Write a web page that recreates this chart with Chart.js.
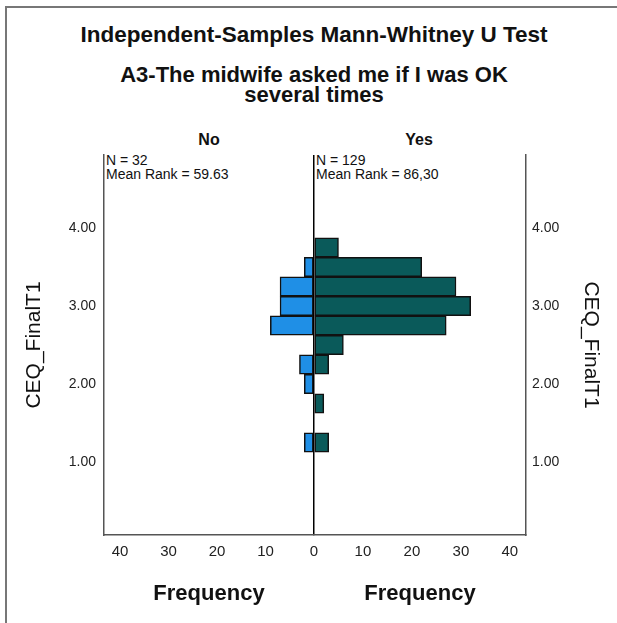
<!DOCTYPE html>
<html>
<head>
<meta charset="utf-8">
<script src="https://cdn.jsdelivr.net/npm/chart.js@4.4.1/dist/chart.umd.min.js"></script>
<style>
  body { margin: 0; background: #fff; width: 617px; height: 623px; overflow: hidden; position: relative; font-family: 'Liberation Sans', Arial, sans-serif; color: #111; }
  .abs { position: absolute; }
  .frame { left: 5px; top: 6px; width: 640px; height: 640px; border-left: 2px solid #777; border-top: 2px solid #777; }
  .title { left: 0; width: 628px; text-align: center; font-weight: bold; font-size: 22.5px; line-height: 22px; }
  .sub { left: 0; width: 628px; text-align: center; font-weight: bold; font-size: 22px; line-height: 20px; }
  .group { width: 210px; text-align: center; font-weight: bold; font-size: 16px; line-height: 16px; top: 132px; }
  .info { font-size: 14px; line-height: 14px; top: 153px; white-space: nowrap; }
</style>
</head>
<body>
<div class="abs frame"></div>
<div class="abs title" style="top:24px">Independent-Samples Mann-Whitney U Test</div>
<div class="abs sub" style="top:65px">A3-The midwife asked me if I was OK<br>several times</div>
<div class="abs group" id="groupNo" style="left:104px"></div>
<div class="abs group" id="groupYes" style="left:314px"></div>
<div class="abs info" id="infoNo" style="left:106px"></div>
<div class="abs info" id="infoYes" style="left:316px"></div>

<div class="abs" style="left:0;top:0;width:330px;height:623px"><canvas id="leftChart" width="330" height="623"></canvas></div>
<div class="abs" style="left:298px;top:0;width:319px;height:623px"><canvas id="rightChart" width="319" height="623"></canvas></div>

<script>
// histogram bins of CEQ_FinalT1 (bin centres) and counts per group
const binCentres = [3.75, 3.5, 3.25, 3.0, 2.75, 2.5, 2.25, 2.0, 1.75, 1.5, 1.25];
const noCounts = [0, 2, 7, 7, 9, 0, 3, 2, 0, 0, 2];
const yesCounts = [5, 22, 29, 32, 27, 6, 3, 0, 2, 0, 3];

const groups = ['No', 'Yes'];
const groupN = [32, 129];
const meanRanks = ['59.63', '86,30'];

const yMin = 0.065, yMax = 4.935;
const xMax = 43.3;
const font = "'Liberation Sans', Arial, sans-serif";

document.getElementById('groupNo').textContent = groups[0];
document.getElementById('groupYes').textContent = groups[1];
document.getElementById('infoNo').innerHTML = `N = ${groupN[0]}<br>Mean Rank = ${meanRanks[0]}`;
document.getElementById('infoYes').innerHTML = `N = ${groupN[1]}<br>Mean Rank = ${meanRanks[1]}`;

function points(counts) {
    return counts
        .map((c, i) => ({ x: c, y: binCentres[i] }))
        .filter(p => p.x > 0);
}

function makeChart(id, counts, colour, side) {
    const isLeft = side === 'left';
    return new Chart(document.getElementById(id), {
        type: 'bar',
        data: {
            datasets: [{
                data: points(counts),
                backgroundColor: colour,
                borderColor: '#111',
                borderWidth: 1.5,
                borderSkipped: false,
                barPercentage: 1,
                categoryPercentage: 1
            }]
        },
        options: {
            indexAxis: 'y',
            responsive: false,
            animation: false,
            devicePixelRatio: 1,
            layout: { padding: isLeft ? { top: 155, right: 16 } : { top: 155, left: 16 } },
            plugins: { legend: { display: false }, tooltip: { enabled: false } },
            scales: {
                x: {
                    type: 'linear',
                    reverse: isLeft,
                    min: 0,
                    max: xMax,
                    afterFit: s => { s.height = 88; },
                    ticks: {
                        stepSize: 10,
                        includeBounds: false,
                        padding: 8,
                        color: '#222',
                        font: { family: font, size: 15 },
                        callback: v => (isLeft && v === 0) ? '' : v
                    },
                    grid: {
                        drawTicks: false,
                        lineWidth: 1.5,
                        color: c => (!isLeft && c.tick && c.tick.value === 0) ? '#000' : 'rgba(0,0,0,0)'
                    },
                    border: { display: true, color: '#555', width: 1.5 },
                    title: {
                        display: true,
                        text: 'Frequency',
                        color: '#111',
                        font: { family: font, size: 22, weight: 'bold' },
                        padding: { top: 0, bottom: 16 }
                    }
                },
                y: {
                    type: 'linear',
                    position: side,
                    offset: false,
                    min: yMin,
                    max: yMax,
                    afterFit: s => { s.width = isLeft ? 104 : 91; },
                    ticks: {
                        stepSize: 1,
                        includeBounds: false,
                        padding: isLeft ? 8 : 6,
                        color: '#222',
                        font: { family: font, size: 14 },
                        callback: v => Number(v).toFixed(2)
                    },
                    grid: { offset: false, drawTicks: false, color: 'rgba(0,0,0,0)' },
                    border: { display: true, color: '#555', width: 1.5 },
                    title: {
                        display: true,
                        text: 'CEQ_FinalT1',
                        color: '#111',
                        font: { family: font, size: 21 },
                        padding: { top: isLeft ? 22 : 14 }
                    }
                }
            }
        }
    });
}

makeChart('leftChart', noCounts, '#1f8fe6', 'left');
makeChart('rightChart', yesCounts, '#0a5a5a', 'right');
</script>
</body>
</html>
